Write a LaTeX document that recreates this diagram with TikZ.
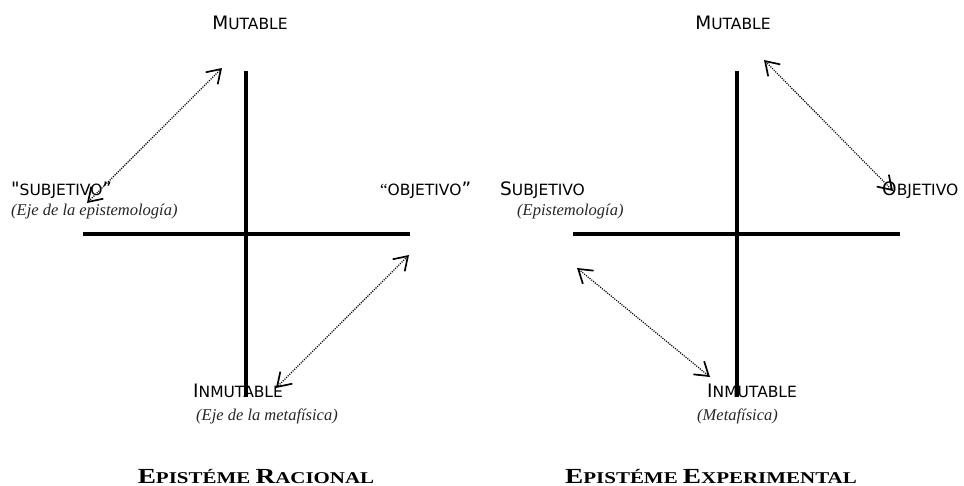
\documentclass[tikz,border=0pt]{standalone}
\usepackage{fontspec}
\usepackage{graphicx}
\setmainfont{Liberation Serif}
\newfontfamily\sansf{DejaVu Sans}
\usetikzlibrary{arrows.meta}
\newcommand\capbig[1]{{\fontsize{18.5}{18.5}\selectfont #1}}
\newcommand\capsml[1]{{\fontsize{15.5}{15.5}\selectfont #1}}
\newcommand\ttlbig[1]{{\fontsize{21.5}{21.5}\selectfont\bfseries #1}}
\newcommand\ttlsml[1]{{\fontsize{16.5}{16.5}\selectfont\bfseries #1}}
\newcommand\ttltext[1]{\scalebox{1.27}[1]{#1}}
\tikzset{
  lab/.style={font=\sansf, inner sep=0pt, anchor=base west},
  note/.style={font=\itshape\fontsize{16.5}{16.5}\selectfont, text=black!85, inner sep=0pt, anchor=base west},
  ttl/.style={inner sep=0pt, anchor=base},
  axis/.style={line width=3.6pt},
  darr/.style={line width=1.2pt, dash pattern=on 1.1pt off 1.2pt,
    {Straight Barb[length=13pt,width=17pt,line width=1.7pt]}-{Straight Barb[length=13pt,width=17pt,line width=1.7pt]}}
}
\begin{document}
\begin{tikzpicture}[x=1pt,y=-1pt]
\useasboundingbox (0,0) rectangle (964,486);
% ---------- left diagram ----------
\coordinate (LvT) at (246,71);
\coordinate (LvB) at (246,397);
\coordinate (LhL) at (83,234);
\coordinate (LhR) at (410,234);
\draw[axis] (LvT) -- (LvB);
\draw[axis] (LhL) -- (LhR);
\node[lab, anchor=base] (Lmut) at (250,30) {\capbig{M}\capsml{UTABLE}};
\node[lab] (Lsub) at (11,196) {\capbig{"}\capsml{SUBJETIVO}\capbig{”}};
\node[note] (Lsubn) at (11,216) {(Eje de la epistemología)};
\node[lab] (Lobj) at (380,196) {{\fontsize{17}{17}\selectfont\rmfamily “}\capsml{OBJETIVO}\capbig{”}};
\node[lab] (Linm) at (193,397) {\capbig{I}\capsml{NMUTABLE}};
\node[note] (Linmn) at (196,420) {(Eje de la metafísica)};
\node[ttl] (Lttl) at (256,483) {\ttltext{\ttlbig{E}\ttlsml{PISTÉME\ }\ttlbig{R}\ttlsml{ACIONAL}}};
\coordinate (La1) at (87,203);
\coordinate (La2) at (222,68);
\coordinate (La3) at (409,255);
\coordinate (La4) at (276,388);
\draw[darr] (La1) -- (La2);
\draw[darr] (La3) -- (La4);
% ---------- right diagram ----------
\coordinate (RvT) at (737,71);
\coordinate (RvB) at (737,397);
\coordinate (RhL) at (573,234);
\coordinate (RhR) at (900,234);
\draw[axis] (RvT) -- (RvB);
\draw[axis] (RhL) -- (RhR);
\node[lab, anchor=base] (Rmut) at (733,30) {\capbig{M}\capsml{UTABLE}};
\node[lab] (Rsub) at (500,196) {\capbig{S}\capsml{UBJETIVO}};
\node[note] (Rsubn) at (517,216) {(Epistemología)};
\node[lab] (Robj) at (882,196) {\capbig{O}\capsml{BJETIVO}};
\node[lab] (Rinm) at (707,397) {\capbig{I}\capsml{NMUTABLE}};
\node[note] (Rinmn) at (697,420) {(Metafísica)};
\node[ttl] (Rttl) at (711,483) {\ttltext{\ttlbig{E}\ttlsml{PISTÉME\ }\ttlbig{E}\ttlsml{XPERIMENTAL}}};
\coordinate (Ra1) at (764,60);
\coordinate (Ra2) at (893,191);
\coordinate (Ra3) at (577,268);
\coordinate (Ra4) at (710,377);
\draw[darr] (Ra1) -- (Ra2);
\draw[darr] (Ra3) -- (Ra4);
\end{tikzpicture}
\end{document}
